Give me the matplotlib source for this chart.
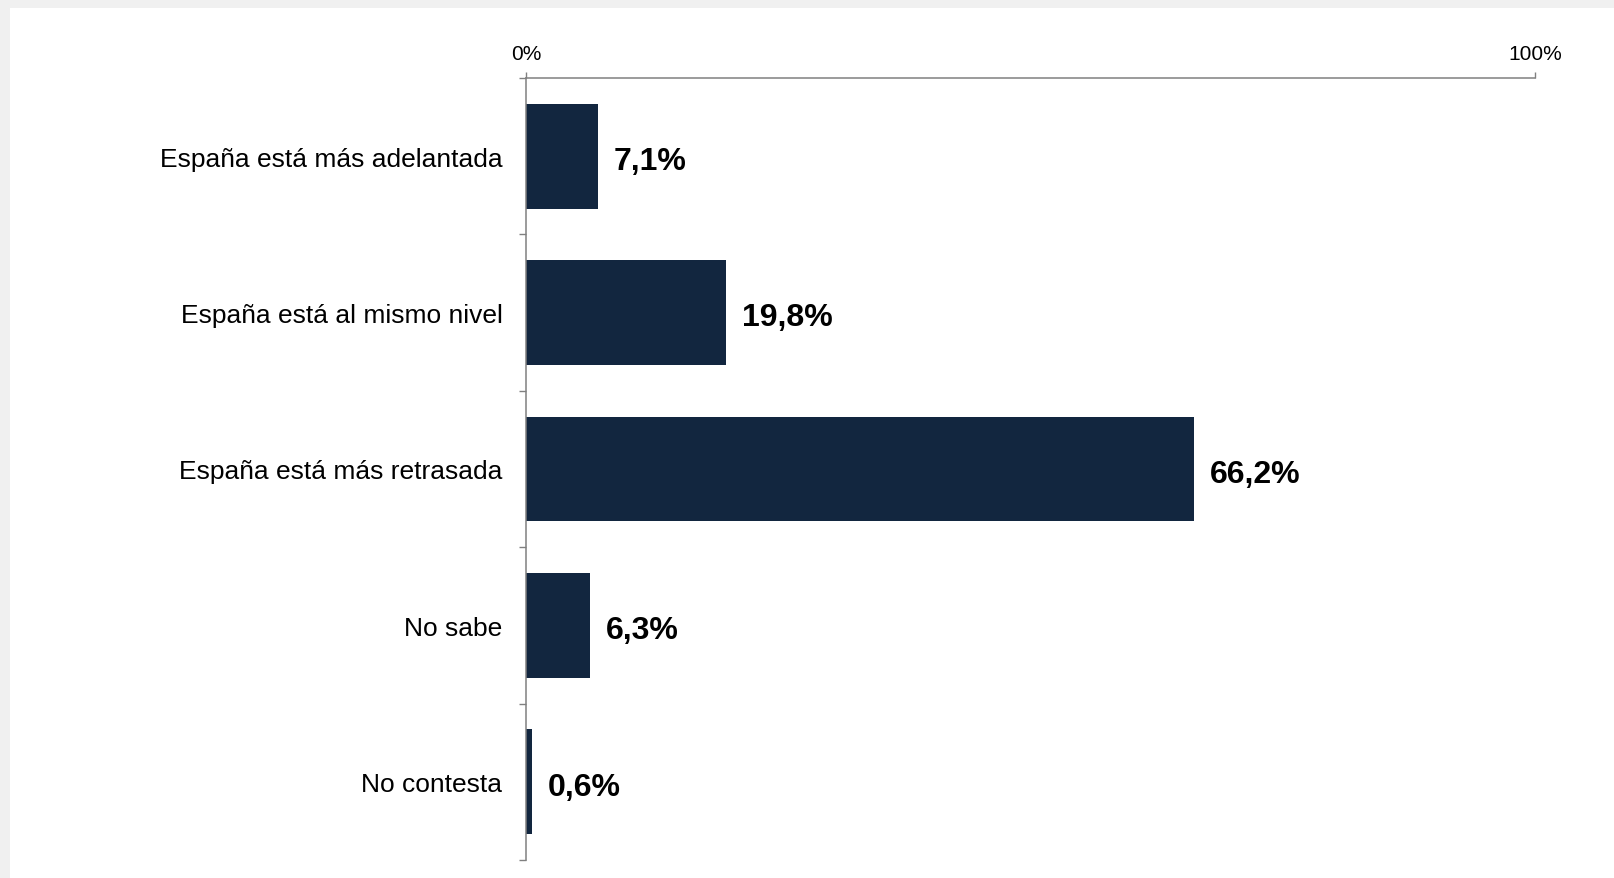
import matplotlib
matplotlib.use('Agg')
import matplotlib.pyplot as plt
from matplotlib.patches import Rectangle

categories = ['España está más adelantada', 'España está al mismo nivel',
              'España está más retrasada', 'No sabe', 'No contesta']
values = [7.1, 19.8, 66.2, 6.3, 0.6]
value_labels = ['7,1%', '19,8%', '66,2%', '6,3%', '0,6%']
x_ticks = [0, 100]
x_ticklabels = ['0%', '100%']

BAR = '#12263f'
AXC = '#808080'

plt.rcParams['font.family'] = ['Liberation Sans', 'DejaVu Sans']

fig = plt.figure(figsize=(16.14, 8.79), dpi=100, facecolor='#f0f0f0')
# white panel inside the light gray frame
fig.patches.append(Rectangle((10 / 1614, 0), 1, 1 - 9 / 879, transform=fig.transFigure,
                             facecolor='white', edgecolor='none', zorder=-10))
ax = fig.add_axes([526 / 1614, 1 - 861 / 879, (1535 - 526) / 1614, (861 - 79) / 879])
ax.set_facecolor('none')

y = list(range(len(categories)))
ax.barh(y, values, height=0.67, color=BAR, zorder=2)
for yi, v, lab in zip(y, values, value_labels):
    ax.annotate(lab, xy=(v, yi), xytext=(11.5, -3.5), textcoords='offset points',
                ha='left', va='center', fontsize=23, fontweight='bold', color='black')

ax.set_xlim(0, 100)
ax.set_ylim(4.5, -0.5)

ax.xaxis.tick_top()
ax.set_xticks(x_ticks)
ax.set_xticklabels(x_ticklabels, fontsize=15)
ax.tick_params(axis='x', direction='out', length=4.5, width=1, color=AXC, pad=6)

ax.set_yticks(y)
ax.set_yticklabels(categories, fontsize=19)
ax.set_yticks([i - 0.5 for i in range(len(categories) + 1)], minor=True)
ax.tick_params(axis='y', which='major', length=0, pad=17)
ax.tick_params(axis='y', which='minor', direction='out', length=5, width=1, color=AXC)

for s in ['right', 'bottom']:
    ax.spines[s].set_visible(False)
for s in ['left', 'top']:
    ax.spines[s].set_color(AXC)
    ax.spines[s].set_linewidth(1.1)

fig.savefig('out.png', dpi=100, facecolor=fig.get_facecolor())
